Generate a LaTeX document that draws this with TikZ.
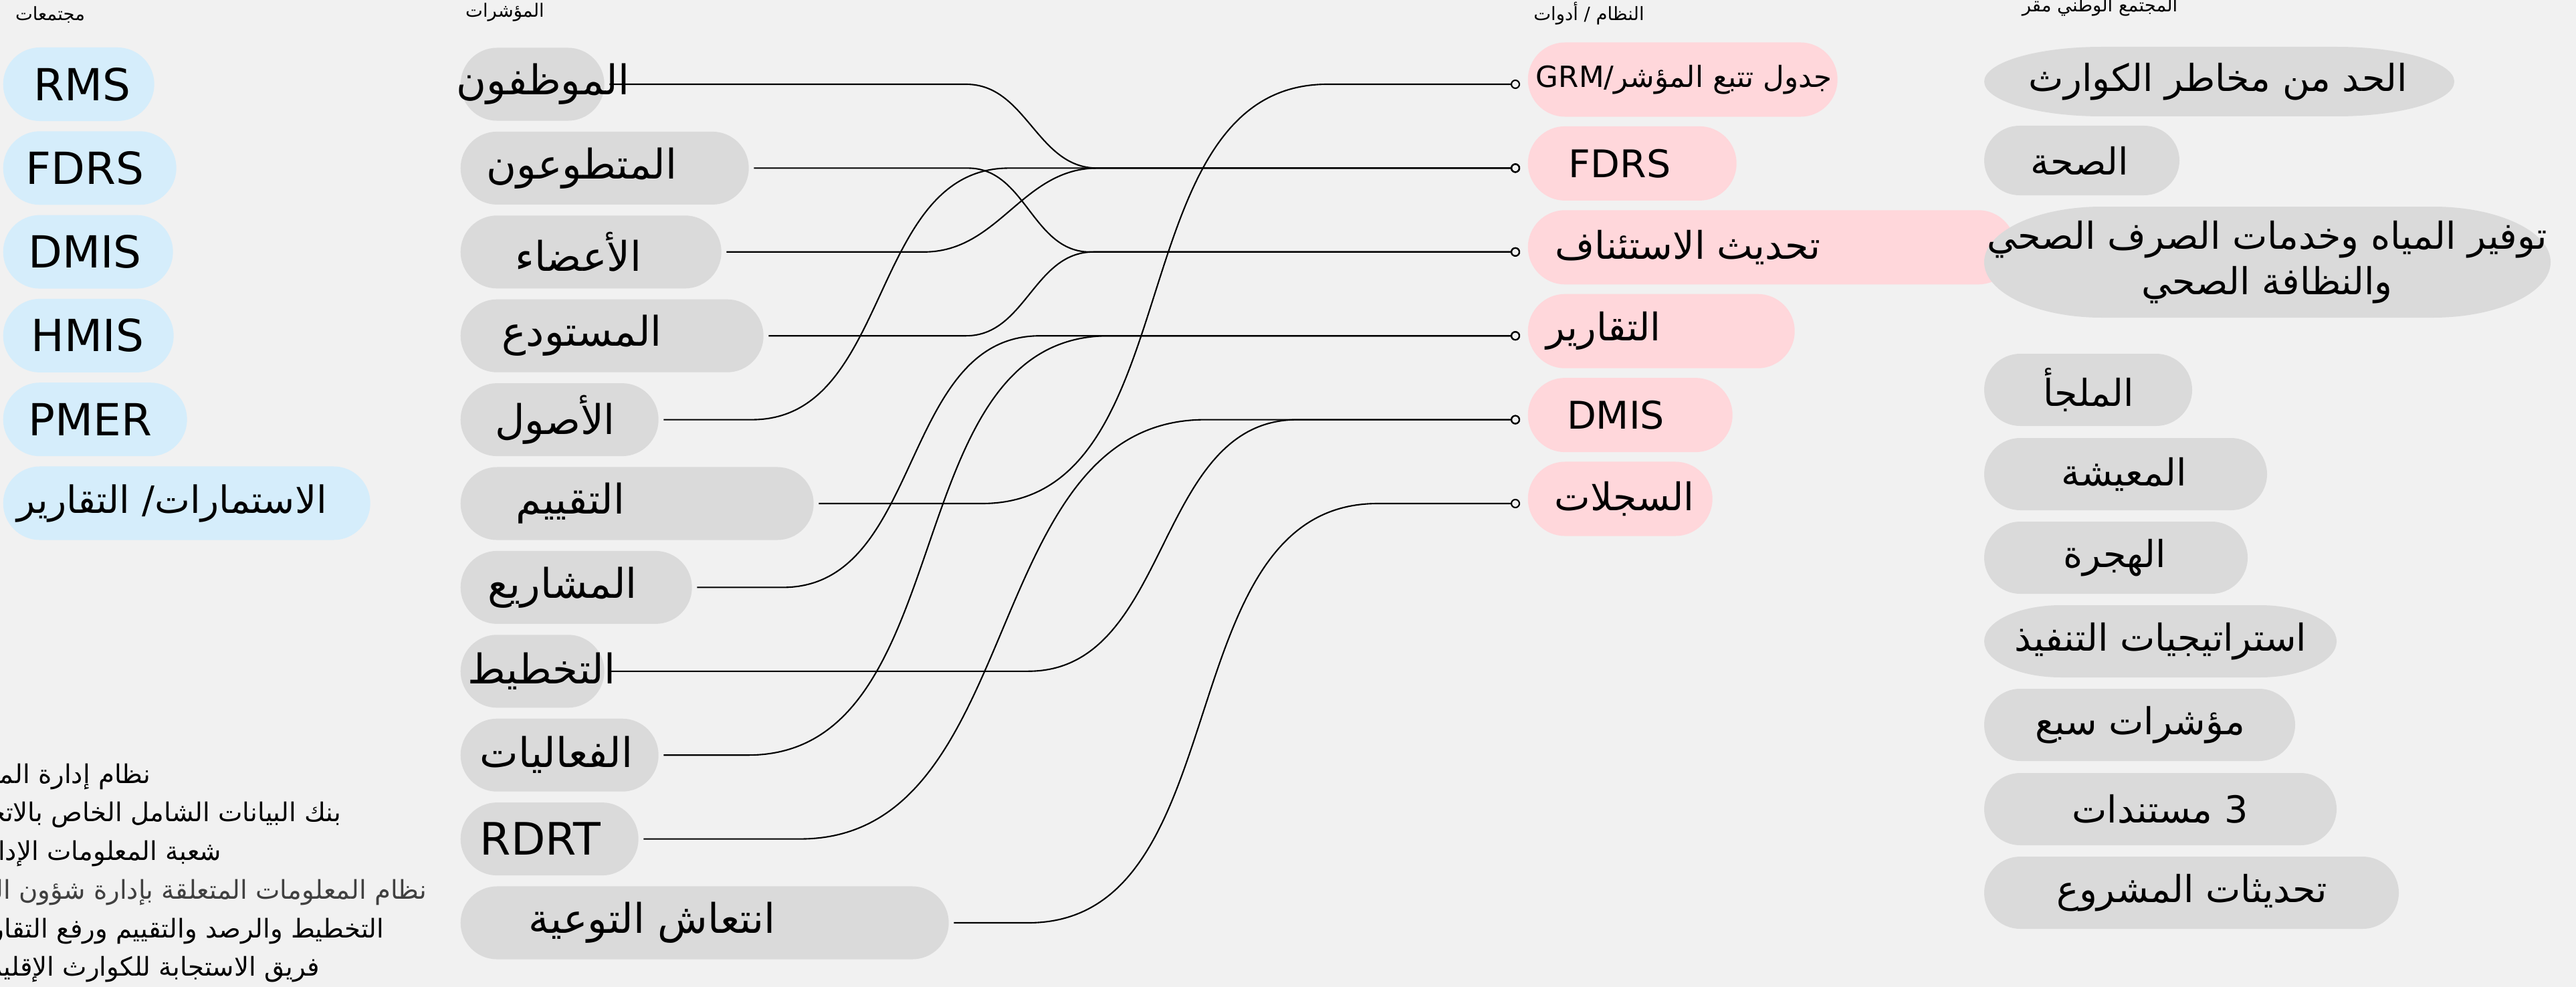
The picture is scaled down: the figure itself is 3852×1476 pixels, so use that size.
\documentclass[tikz,border=0pt]{standalone}
\usepackage{fontspec}
\setmainfont{DejaVu Sans}
\newfontfamily\arabicfont[Script=Arabic]{DejaVu Sans}
\TeXXeTstate=1
\usepackage{tikz}
\usepackage{xcolor}
\usetikzlibrary{positioning, calc, arrows.meta}

\definecolor{bgcol}{HTML}{F1F1F1}
\definecolor{commcol}{HTML}{D5EDFB}
\definecolor{indcol}{HTML}{DADADA}
\definecolor{syscol}{HTML}{FFD7DB}
\definecolor{nscol}{HTML}{DADADA}

\newcommand{\artext}[1]{{\arabicfont\beginR #1\endR}}

\begin{document}
\begin{tikzpicture}[x=0.01cm, y=-0.01cm,
    pill/.style={rounded corners=0.55cm, minimum height=1.1cm, inner sep=0pt, anchor=west},
    comm/.style={pill, fill=commcol},
    ind/.style={pill, fill=indcol, minimum height=1.09cm, rounded corners=0.545cm},
    sys/.style={pill, fill=syscol, minimum height=1.11cm, rounded corners=0.555cm},
    commtext/.style={inner sep=0pt, font=\fontsize{18.8}{22}\selectfont},
    indtext/.style={inner sep=0pt, font=\fontsize{17.4}{21}\selectfont},
    systext/.style={inner sep=0pt, font=\fontsize{16.2}{20}\selectfont},
    nstext/.style={inner sep=0pt, align=center, font=\fontsize{15.8}{19.5}\selectfont},
    head/.style={inner sep=0pt, font=\fontsize{7.8}{9}\selectfont},
    note/.style={inner sep=0pt, anchor=east, font=\fontsize{11}{13}\selectfont},
    link/.style={line width=0.6pt, -{Circle[open, length=4pt]}}]

  \useasboundingbox (0,0) rectangle (3852,1476);
  \clip (0,0) rectangle (3852,1476);
  \fill[bgcol] (0,0) rectangle (3852,1476);

  % Headers
  \node[head] (hComm) at (75,22) {\artext{مجتمعات}};
  \node[head] (hInd) at (755,18) {\artext{المؤشرات}};
  \node[head] (hSys) at (2376,20) {\artext{النظام / أدوات}};
  \node[head] (hNS) at (3140,10) {\artext{المجتمع الوطني مقر}};

  % Communities
  \foreach \n/\w/\tx/\txt [count=\i from 0] in {RMS/226/123/RMS, FDRS/259/127/FDRS, DMIS/254/127/DMIS, HMIS/255/131/HMIS, PMER/275/135/PMER, Forms/549/257/{\fontsize{16}{20}\selectfont\artext{الاستمارات/ التقارير}}}
  {
    \node[comm, minimum width=\w*0.01cm] (comm\n) at (4,{126+125.3*\i}) {};
    \node[commtext] (commt\n) at (\tx,{126+125.3*\i}) {\txt};
  }

  % Indicators
  \foreach \n/\w/\tx/\txt [count=\i from 0] in {Staff/215/812/{\artext{الموظفون}}, Volunteers/431/870/{\artext{المتطوعون}}, Members/390/865/{\artext{الأعضاء}}, Depot/453/870/{\artext{المستودع}}, Assets/296/830/{\artext{الأصول}}, Eval/528/853/{\artext{التقييم}}, Projects/346/841/{\artext{المشاريع}}, Planning/215/810/{\artext{التخطيط}}, Activities/296/832/{\artext{الفعاليات}}, RDRT/266/808/{\fontsize{19}{22}\selectfont RDRT}, Recovery/730/975/{\artext{انتعاش التوعية}}}
  {
    \node[ind, minimum width=\w*0.01cm] (ind\n) at (688,{126+125.4*\i}) {};
    \node[indtext] (indt\n) at (\tx,{126+125.4*\i}) {\txt};
  }

  % Systems / tools
  \foreach \n/\w/\tx/\txt [count=\i from 0] in {GRM/463/2518/{\fontsize{12.4}{15}\selectfont\artext{جدول تتبع المؤشر/\beginL GRM\endL}}, FDRS/312/2422/FDRS, Appeal/729/2524/{\artext{تحديث الاستئناف}}, Reports/399/2398/{\artext{التقارير}}, DMIS/306/2416/DMIS, Records/276/2429/{\artext{السجلات}}}
  {
    \node[sys, minimum width=\w*0.01cm] (sys\n) at (2284,{119+125.4*\i}) {};
    \node[systext] (syst\n) at (\tx,{119+125.4*\i}) {\txt};
    \coordinate (pin\n) at ($(sys\n.west)+(-11,7)$);
  }

  % National society
  \foreach \yc/\ry/\xb/\rx/\tx/\txt [count=\i] in {122/52/3670/176/3317/{\artext{الحد من مخاطر الكوارث}}, 240/52/3259/53/3110/{\artext{الصحة}}, 392/83/3814/176/3390/{\artext{توفير المياه وخدمات الصرف الصحي}\\\artext{والنظافة الصحي}}, 583/54/3278/54/3123/{\artext{الملجأ}}, 709/54/3390/54/3176/{\artext{المعيشة}}, 834/54/3361/54/3162/{\artext{الهجرة}}, 959/54/3494/115/3231/{\artext{استراتيجيات التنفيذ}}, 1084/54/3432/54/3200/{\artext{مؤشرات سبع}}, 1210/54/3494/54/3230/{\artext{3 مستندات}}, 1335/54/3587/54/3278/{\artext{تحديثات المشروع}}}
  {
    \fill[nscol] ({2967+\rx},{\yc-\ry}) -- ({\xb-\rx},{\yc-\ry}) arc[start angle=-90, end angle=90, x radius=\rx, y radius=\ry] -- ({2967+\rx},{\yc+\ry}) arc[start angle=90, end angle=270, x radius=\rx, y radius=\ry] -- cycle;
    \node[nstext] (ns\i) at (\tx,\yc) {\txt};
  }

  % Full names
  \foreach \xe/\ye/\col/\txt [count=\i] in {226/1162/black/{نظام إدارة الموارد}, 511/1219/black/{بنك البيانات الشامل الخاص بالاتحاد}, 332/1277/black/{شعبة المعلومات الإدارية}, 639/1335/black!75/{نظام المعلومات المتعلقة بإدارة شؤون الصحة}, 575/1393/black/{التخطيط والرصد والتقييم ورفع التقارير}, 479/1450/black/{فريق الاستجابة للكوارث الإقليمي}}
    \node[note, text=\col] (note\i) at (\xe,\ye) {\artext{\txt}};

  % Links
  \foreach \src/\dst/\flat/\back in {Staff/FDRS/533/632, Volunteers/Appeal/320/643, Members/FDRS/295/632, Depot/Appeal/295/638, Assets/FDRS/132/764, Eval/GRM/244/288, Projects/Reports/128/718, Planning/DMIS/626/333, Activities/Reports/126/615, RDRT/DMIS/234/471, Recovery/Records/111/213}
    \draw[link] ($(ind\src.east)+(7,0)$) -- ++(\flat,0) to[out=0,in=180] ($(pin\dst)+(-\back,0)$) -- (pin\dst);
\end{tikzpicture}
\end{document}
